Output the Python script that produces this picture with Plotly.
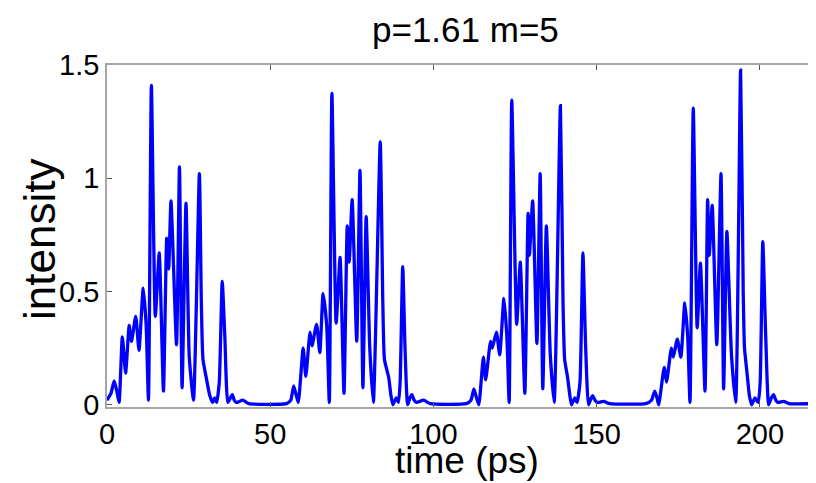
import plotly.graph_objects as go

# ---- data (time in ps, intensity) ----
t_group1 = [0, 1.2, 2.2, 3.0, 3.7, 4.7, 5.7, 6.8, 7.5, 8.8, 9.8, 11.1, 12.0, 12.7, 13.6,
            14.8, 16.0, 17.3, 18.3, 18.9, 19.6, 21.3, 22.2, 23.0, 24.2, 25.2, 26.5, 28.3,
            28.9, 29.4, 30.4, 31.5, 32.4, 33.0, 33.6, 34.4, 35.3, 36.1, 37.0, 37.8, 38.4,
            39.0, 39.6, 41.6, 43.5]
i_group1 = [0.02, 0.05, 0.105, 0.06, 0.01, 0.30, 0.14, 0.35, 0.28, 0.39, 0.24, 0.515, 0.35,
            0.02, 1.41, 0.39, 0.67, 0.06, 0.735, 0.60, 0.90, 0.265, 1.05, 0.075, 0.89, 0.21,
            0.02, 1.02, 0.45, 0.2, 0.12, 0.04, 0.01, 0.03, 0.01, 0.1, 0.545, 0.3, 0.01, 0.03,
            0.045, 0.02, 0.01, 0.02, 0.005]

t_group2 = [55.0, 56.3, 57.2, 58.0, 58.6, 60.1, 60.9, 62.2, 62.8, 64.2, 65.2, 66.2, 67.3,
            68.1, 68.9, 70.2, 71.4, 72.6, 73.6, 74.2, 75.1, 76.5, 77.5, 78.4, 79.4, 80.5,
            81.6, 83.7, 84.5, 85.0, 86.3, 87.0, 87.6, 88.6, 89.3, 89.8, 90.6, 91.3, 92.1,
            92.8, 93.4, 94.1, 94.8, 97.0, 99.0]
i_group2 = [0.005, 0.02, 0.083, 0.04, 0.01, 0.25, 0.125, 0.32, 0.26, 0.355, 0.23, 0.49, 0.35,
            0.01, 1.375, 0.36, 0.65, 0.05, 0.79, 0.63, 0.905, 0.28, 1.035, 0.075, 0.83, 0.25,
            0.01, 1.16, 0.45, 0.2, 0.12, 0.04, 0.0, 0.03, 0.01, 0.1, 0.61, 0.25, 0.0, 0.03,
            0.045, 0.02, 0.01, 0.02, 0.005]

t_group3 = [110.0, 111.5, 112.4, 113.2, 113.9, 115.3, 116.0, 117.5, 118.0, 119.3, 120.3,
            121.6, 122.5, 123.2, 124.0, 125.5, 126.6, 128.0, 129.0, 129.4, 130.4, 131.7,
            132.7, 133.5, 134.6, 135.8, 137.0, 138.9, 139.7, 140.2, 141.1, 141.8, 142.3,
            143.3, 144.0, 144.9, 145.8, 146.6, 147.5, 148.2, 148.8, 149.5, 150.3, 152.2, 154.0]
i_group3 = [0.005, 0.02, 0.07, 0.03, 0.0, 0.21, 0.11, 0.28, 0.25, 0.32, 0.22, 0.47, 0.3, 0.01,
            1.345, 0.355, 0.63, 0.05, 0.845, 0.66, 0.90, 0.27, 1.02, 0.07, 0.79, 0.22, 0.01,
            1.32, 0.45, 0.2, 0.12, 0.04, 0.0, 0.03, 0.01, 0.1, 0.67, 0.27, 0.0, 0.025, 0.04,
            0.02, 0.01, 0.015, 0.005]

t_group4 = [165.0, 166.8, 167.8, 168.5, 169.0, 170.7, 171.4, 172.9, 173.5, 174.7, 175.8,
            177.0, 177.9, 178.6, 179.6, 180.8, 181.8, 183.2, 184.0, 184.5, 185.4, 186.8,
            188.1, 188.9, 189.9, 191.3, 192.6, 194.1, 194.9, 195.3, 196.0, 196.8, 197.5,
            198.5, 199.5, 200.1, 200.9, 201.8, 202.7, 203.5, 204.2, 204.9, 205.5, 207.3,
            209.0, 217.2]
i_group4 = [0.005, 0.02, 0.06, 0.03, 0.0, 0.165, 0.10, 0.25, 0.21, 0.29, 0.21, 0.45, 0.3, 0.01,
            1.31, 0.34, 0.625, 0.06, 0.905, 0.66, 0.88, 0.265, 1.02, 0.07, 0.765, 0.22, 0.01,
            1.477, 0.5, 0.25, 0.15, 0.04, 0.0, 0.03, 0.01, 0.1, 0.72, 0.3, 0.0, 0.03, 0.045,
            0.02, 0.01, 0.015, 0.005, 0.005]

x_ticks = [0, 50, 100, 150, 200]
y_ticks = [0, 0.5, 1, 1.5]
y_tick_labels = ["0", "0.5", "1", "1.5"]
title_text = "p=1.61 m=5"
x_label = "time (ps)"
y_label = "intensity"

time = t_group1 + t_group2 + t_group3 + t_group4
intensity = i_group1 + i_group2 + i_group3 + i_group4

FONT = "Liberation Sans, Arial, sans-serif"
AXIS_GREY = "#a6a6a6"
OFF = 8  # the page body margin shifts the figure by this many pixels
W, H = 816 - OFF, 483 - OFF
L, R, T, B = 107 - OFF, 0, 65 - OFF, 76
PW, PH = W - L - R, H - T - B


def px_x(sx):
    return (sx - OFF - L) / PW


def px_y(sy):
    return (H - B - (sy - OFF)) / PH


fig = go.Figure()
fig.add_trace(go.Scatter(x=time, y=intensity, mode="lines",
                         line=dict(color="#0000ff", width=3.3, shape="spline", smoothing=0.5),
                         showlegend=False, hoverinfo="skip"))

fig.update_layout(
    width=W, height=H,
    margin=dict(l=L, r=R, t=T, b=B, autoexpand=False),
    paper_bgcolor="white", plot_bgcolor="white",
    font=dict(family=FONT, color="black"),
    annotations=[
        dict(text=title_text, xref="paper", yref="paper", x=px_x(465), y=px_y(30),
             xanchor="center", yanchor="middle", showarrow=False,
             font=dict(size=35, family=FONT)),
        dict(text=x_label, xref="paper", yref="paper", x=px_x(467),
             y=px_y(460), xanchor="center", yanchor="middle", showarrow=False,
             font=dict(size=37, family=FONT)),
        dict(text=y_label, xref="paper", yref="paper", x=px_x(39),
             y=px_y(240), xanchor="center", yanchor="middle",
             showarrow=False, textangle=-90, font=dict(size=44, family=FONT)),
    ],
)
fig.update_xaxes(
    range=[0, 217.2], tickvals=x_ticks, ticktext=[str(v) for v in x_ticks],
    showgrid=False, zeroline=False, showline=True, linecolor=AXIS_GREY, linewidth=1.5,
    mirror="ticks", ticks="inside", ticklen=5, tickcolor="#555555", tickwidth=1,
    tickfont=dict(size=29, family=FONT), automargin=False,
)
fig.update_yaxes(
    range=[-0.01, 1.5], tickvals=y_ticks, ticktext=y_tick_labels,
    showgrid=False, zeroline=False, showline=True, linecolor=AXIS_GREY, linewidth=1.5,
    mirror=False, ticks="inside", ticklen=5, tickcolor="#555555", tickwidth=1,
    tickfont=dict(size=29, family=FONT), automargin=False,
)

fig.write_html("out.html")
